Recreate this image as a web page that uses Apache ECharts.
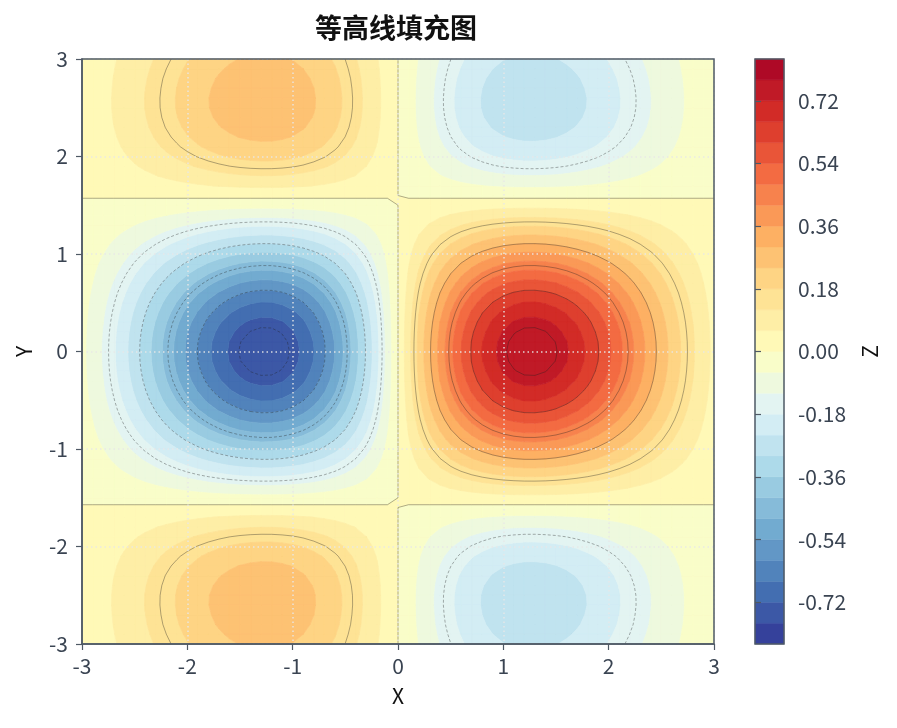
<!DOCTYPE html>
<html>
<head>
<meta charset="utf-8">
<title>等高线填充图</title>
<script src="https://cdn.jsdelivr.net/npm/echarts@6/dist/echarts.min.js"></script>
<style>
html, body { margin: 0; padding: 0; background: #fff; }
#chart { width: 897px; height: 728px; }
</style>
</head>
<body>
<div id="chart"></div>
<script>
// sample positions of the grid (x and y both run -3 .. 3)
var xGrid = [-3.0,-2.9,-2.8,-2.7,-2.6,-2.5,-2.4,-2.3,-2.2,-2.1,-2.0,-1.9,-1.8,-1.7,-1.6,-1.5,-1.4,-1.3,-1.2,-1.1,-1.0,
             -0.9,-0.8,-0.7,-0.6,-0.5,-0.4,-0.3,-0.2,-0.1,0.0,0.1,0.2,0.3,0.4,0.5,0.6,0.7,0.8,0.9,1.0,
             1.1,1.2,1.3,1.4,1.5,1.6,1.7,1.8,1.9,2.0,2.1,2.2,2.3,2.4,2.5,2.6,2.7,2.8,2.9,3.0];
var yGrid = [-3.0,-2.9,-2.8,-2.7,-2.6,-2.5,-2.4,-2.3,-2.2,-2.1,-2.0,-1.9,-1.8,-1.7,-1.6,-1.5,-1.4,-1.3,-1.2,-1.1,-1.0,
             -0.9,-0.8,-0.7,-0.6,-0.5,-0.4,-0.3,-0.2,-0.1,0.0,0.1,0.2,0.3,0.4,0.5,0.6,0.7,0.8,0.9,1.0,
             1.1,1.2,1.3,1.4,1.5,1.6,1.7,1.8,1.9,2.0,2.1,2.2,2.3,2.4,2.5,2.6,2.7,2.8,2.9,3.0];

// Z along the row y = 0, one value per xGrid entry
var zAlongX = [-0.046,-0.084,-0.126,-0.172,-0.221,-0.274,-0.329,-0.385,-0.442,-0.497,-0.552,-0.603,-0.650,-0.691,-0.726,-0.753,-0.771,-0.780,-0.779,-0.766,-0.743,
               -0.708,-0.662,-0.606,-0.540,-0.465,-0.382,-0.292,-0.198,-0.100,0.000,0.100,0.198,0.292,0.382,0.465,0.540,0.606,0.662,0.708,0.743,
               0.766,0.779,0.780,0.771,0.753,0.726,0.691,0.650,0.603,0.552,0.497,0.442,0.385,0.329,0.274,0.221,0.172,0.126,0.084,0.046];
// how Z scales with y relative to the y = 0 row, one value per yGrid entry
var yFactor = [-0.321,-0.339,-0.354,-0.363,-0.368,-0.367,-0.359,-0.344,-0.321,-0.291,-0.252,-0.206,-0.152,-0.090,-0.021,0.053,0.133,0.217,0.303,0.390,0.477,
               0.562,0.643,0.719,0.789,0.851,0.903,0.945,0.975,0.994,1.000,0.994,0.975,0.945,0.903,0.851,0.789,0.719,0.643,0.562,0.477,
               0.390,0.303,0.217,0.133,0.053,-0.021,-0.090,-0.152,-0.206,-0.252,-0.291,-0.321,-0.344,-0.359,-0.367,-0.368,-0.363,-0.354,-0.339,-0.321];

var fillLevels = [-0.84,-0.78,-0.72,-0.66,-0.60,-0.54,-0.48,-0.42,-0.36,-0.30,-0.24,-0.18,-0.12,-0.06,0,
                  0.06,0.12,0.18,0.24,0.30,0.36,0.42,0.48,0.54,0.60,0.66,0.72,0.78,0.84];
var lineLevels = [-0.75,-0.60,-0.45,-0.30,-0.15,0,0.15,0.30,0.45,0.60,0.75];
var axisTicks = [-3,-2,-1,0,1,2,3];
var cbTicks = [-0.72,-0.54,-0.36,-0.18,0,0.18,0.36,0.54,0.72];

var FONT = '"Noto Sans CJK SC", "Noto Sans", sans-serif';
var AXIS_COLOR = '#4f5965';
var LABEL_COLOR = '#3a4452';

// RdYlBu, reversed when sampled
var rdylbu = ['#a50026','#d73027','#f46d43','#fdae61','#fee090','#ffffbf','#e0f3f8','#abd9e9','#74add1','#4575b4','#313695'];
function hexRgb(h) { return [parseInt(h.substr(1,2),16), parseInt(h.substr(3,2),16), parseInt(h.substr(5,2),16)]; }
function cmapR(t) {
    var u = (1 - t) * 10, i = Math.min(9, Math.floor(u)), f = u - i;
    var a = hexRgb(rdylbu[i]), b = hexRgb(rdylbu[i + 1]);
    return 'rgb(' + Math.round(a[0] + f * (b[0] - a[0])) + ',' + Math.round(a[1] + f * (b[1] - a[1])) + ',' + Math.round(a[2] + f * (b[2] - a[2])) + ')';
}
var nBands = fillLevels.length - 1;
var bandColors = [];
for (var k = 0; k < nBands; k++) bandColors.push(cmapR((k + 0.5) / nBands));

// table of grid vertices and cells
var nx = xGrid.length, ny = yGrid.length;
var VX = [], VY = [], VZ = [];
for (var j = 0; j < ny; j++) {
    for (var i = 0; i < nx; i++) {
        VX.push(xGrid[i]); VY.push(yGrid[j]); VZ.push(zAlongX[i] * yFactor[j]);
    }
}
var cells = [];
for (var j = 0; j < ny - 1; j++) {
    for (var i = 0; i < nx - 1; i++) {
        var a = j * nx + i;
        cells.push([a, a + 1, a + nx + 1, a + nx]);
    }
}

function clip(pts, level, above) {
    var out = [];
    for (var n = 0; n < pts.length; n++) {
        var p = pts[n], q = pts[(n + 1) % pts.length];
        var inP = above ? p[2] >= level : p[2] <= level;
        var inQ = above ? q[2] >= level : q[2] <= level;
        if (inP) out.push(p);
        if (inP !== inQ) {
            var t = (level - p[2]) / (q[2] - p[2]);
            out.push([p[0] + t * (q[0] - p[0]), p[1] + t * (q[1] - p[1]), level]);
        }
    }
    return out;
}

// filled bands
var bandPolys = [];
for (var k = 0; k < nBands; k++) bandPolys.push([]);
cells.forEach(function (cell) {
    var pts = cell.map(function (v) { return [VX[v], VY[v], VZ[v]]; });
    var zs = pts.map(function (p) { return p[2]; });
    var zmin = Math.min.apply(null, zs), zmax = Math.max.apply(null, zs);
    for (var k = 0; k < nBands; k++) {
        var lo = fillLevels[k], hi = fillLevels[k + 1];
        if (hi < zmin || lo > zmax) continue;
        var poly = clip(clip(pts, lo, true), hi, false);
        if (poly.length >= 3) bandPolys[k].push(poly);
    }
});

// contour lines (marching squares), chained into polylines
function contour(L) {
    var segs = [];
    cells.forEach(function (cell) {
        var pts = [];
        for (var e = 0; e < 4; e++) {
            var u = cell[e], v = cell[(e + 1) % 4];
            if ((VZ[u] >= L) !== (VZ[v] >= L)) {
                var t = (L - VZ[u]) / (VZ[v] - VZ[u]);
                pts.push({ edge: e, key: Math.min(u, v) + '_' + Math.max(u, v), x: VX[u] + t * (VX[v] - VX[u]), y: VY[u] + t * (VY[v] - VY[u]) });
            }
        }
        if (pts.length === 2) {
            segs.push(pts);
        } else if (pts.length === 4) {
            var zc = (VZ[cell[0]] + VZ[cell[1]] + VZ[cell[2]] + VZ[cell[3]]) / 4;
            if ((zc >= L) === (VZ[cell[0]] >= L)) {
                segs.push([pts[0], pts[1]]); segs.push([pts[2], pts[3]]);
            } else {
                segs.push([pts[3], pts[0]]); segs.push([pts[1], pts[2]]);
            }
        }
    });
    var byKey = {};
    segs.forEach(function (s, n) {
        s.forEach(function (p) { (byKey[p.key] = byKey[p.key] || []).push(n); });
    });
    var used = [], lines = [];
    function grow(line) {
        while (true) {
            var last = line[line.length - 1], cand = byKey[last.key], found = -1;
            for (var c = 0; c < cand.length; c++) if (!used[cand[c]]) { found = cand[c]; break; }
            if (found < 0) return;
            used[found] = true;
            var s = segs[found];
            line.push(s[0].key === last.key ? s[1] : s[0]);
        }
    }
    for (var n = 0; n < segs.length; n++) {
        if (used[n]) continue;
        used[n] = true;
        var line = [segs[n][0], segs[n][1]];
        grow(line); line.reverse(); grow(line);
        lines.push(line);
    }
    return lines;
}
var contourLines = lineLevels.map(contour);

function polyPath(polys, api, close) {
    var d = [];
    for (var p = 0; p < polys.length; p++) {
        var poly = polys[p];
        for (var q = 0; q < poly.length; q++) {
            var pt = poly[q];
            var c = api.coord(pt.length ? [pt[0], pt[1]] : [pt.x, pt.y]);
            d.push((q ? 'L' : 'M') + c[0].toFixed(2) + ' ' + c[1].toFixed(2));
        }
        if (close) d.push('Z');
    }
    return d.join('');
}

var chart = echarts.init(document.getElementById('chart'));
var axisBase = {
    type: 'value', min: -3, max: 3, interval: 1, z: 4,
    nameLocation: 'middle',
    nameTextStyle: { fontFamily: FONT, fontSize: 21, color: '#111' },
    axisLine: { show: true, onZero: false, lineStyle: { color: AXIS_COLOR, width: 1.5 } },
    axisTick: { show: true, length: 6, lineStyle: { color: AXIS_COLOR, width: 1.2 } },
    axisLabel: { fontFamily: FONT, fontSize: 21, color: LABEL_COLOR, showMinLabel: true, showMaxLabel: true },
    splitLine: { show: true, lineStyle: { color: 'rgba(232,232,232,0.9)', width: 1.5, type: [1.5, 3] } }
};
var option = {
    animation: false,
    backgroundColor: '#fff',
    title: {
        text: '等高线填充图', left: 391, top: 9, textAlign: 'center',
        textStyle: { fontFamily: FONT, fontSize: 27, fontWeight: 'bold', color: '#111' }
    },
    grid: [
        { left: 82, top: 59, width: 632, height: 585, show: true, borderColor: AXIS_COLOR, borderWidth: 1.5, backgroundColor: 'transparent', z: 5 },
        { left: 755, top: 59, width: 29, height: 585, show: true, borderColor: AXIS_COLOR, borderWidth: 1.5, backgroundColor: 'transparent', z: 5 }
    ],
    xAxis: [
        echarts.util.merge({ gridIndex: 0, name: 'X', nameGap: 42, axisLabel: { margin: 12 } }, axisBase),
        { gridIndex: 1, type: 'value', min: 0, max: 1, show: false }
    ],
    yAxis: [
        echarts.util.merge({ gridIndex: 0, name: 'Y', nameGap: 47, nameRotate: 90, axisLabel: { margin: 14 } }, axisBase),
        {
            gridIndex: 1, type: 'value', min: -0.84, max: 0.84, position: 'right', z: 4,
            name: 'Z', nameLocation: 'middle', nameRotate: 90, nameGap: 76,
            nameTextStyle: { fontFamily: FONT, fontSize: 21, color: '#111' },
            axisLine: { show: false },
            axisTick: { show: true, length: 6, customValues: cbTicks, lineStyle: { color: AXIS_COLOR, width: 1.2 } },
            axisLabel: {
                fontFamily: FONT, fontSize: 21, color: LABEL_COLOR, margin: 14, customValues: cbTicks,
                formatter: function (v) { return v.toFixed(2); }
            },
            splitLine: { show: false }
        }
    ],
    series: [
        {
            type: 'custom', name: 'fill', xAxisIndex: 0, yAxisIndex: 0, z: 1, silent: true,
            data: bandColors.map(function (c, k) { return [0, 0, k]; }),
            renderItem: function (params, api) {
                var k = api.value(2);
                if (!bandPolys[k].length) return null;
                return {
                    type: 'path',
                    shape: { pathData: polyPath(bandPolys[k], api, true) },
                    style: { fill: bandColors[k], stroke: bandColors[k], lineWidth: 0.7 }
                };
            }
        },
        {
            type: 'custom', name: 'lines', xAxisIndex: 0, yAxisIndex: 0, z: 2, silent: true,
            data: lineLevels.map(function (L, n) { return [0, 0, n]; }),
            renderItem: function (params, api) {
                var n = api.value(2);
                if (!contourLines[n].length) return null;
                return {
                    type: 'path',
                    shape: { pathData: polyPath(contourLines[n], api, false) },
                    style: {
                        fill: null, stroke: 'rgba(30,30,30,0.6)', lineWidth: 0.6,
                        lineDash: lineLevels[n] < 0 ? [3, 2] : null
                    }
                };
            }
        },
        {
            type: 'custom', name: 'colorbar', xAxisIndex: 1, yAxisIndex: 1, z: 1, silent: true,
            data: bandColors.map(function (c, k) { return [0.5, (fillLevels[k] + fillLevels[k + 1]) / 2, k]; }),
            renderItem: function (params, api) {
                var k = api.value(2);
                var p0 = api.coord([0, fillLevels[k + 1]]), p1 = api.coord([1, fillLevels[k]]);
                return {
                    type: 'rect',
                    shape: { x: p0[0], y: p0[1], width: p1[0] - p0[0], height: p1[1] - p0[1] },
                    style: { fill: bandColors[k], stroke: bandColors[k], lineWidth: 0.5 }
                };
            }
        }
    ]
};
chart.setOption(option);
window.onresize = function () { chart.resize(); };
</script>
</body>
</html>
